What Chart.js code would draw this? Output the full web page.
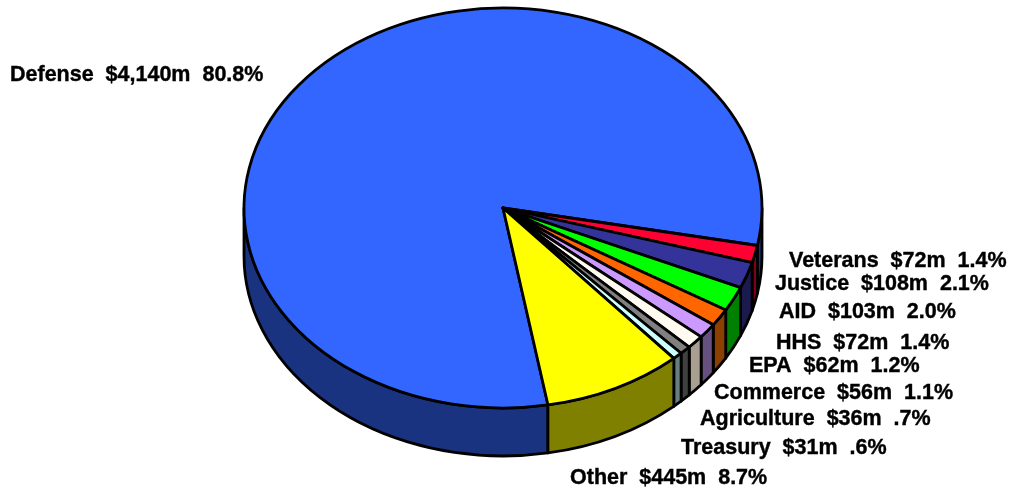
<!DOCTYPE html>
<html>
<head>
<meta charset="utf-8">
<style>
  html, body { margin: 0; padding: 0; background: #fff; }
  canvas { display: block; }
</style>
<script src="https://cdn.jsdelivr.net/npm/chart.js@4/dist/chart.umd.min.js"></script>
</head>
<body>
<canvas id="spendingPie" width="1013" height="489"></canvas>
<script>
// Spending by agency, clockwise from the largest slice
const agencies = ['Defense', 'Veterans', 'Justice', 'AID', 'HHS', 'EPA', 'Commerce', 'Agriculture', 'Treasury', 'Other'];
const amounts = [4140, 72, 108, 103, 72, 62, 56, 36, 31, 445];
const shares = ['80.8%', '1.4%', '2.1%', '2.0%', '1.4%', '1.2%', '1.1%', '.7%', '.6%', '8.7%'];

const topColors = ['#3366ff', '#ff0033', '#333399', '#00ff00', '#ff6600', '#cc99ff', '#fffbf0', '#808080', '#ccffff', '#ffff00'];
const wallColors = ['#1a3380', '#80001a', '#1a1a4d', '#008000', '#8b4000', '#665080', '#a89f90', '#404040', '#668080', '#808000'];

// Where each label starts: x, vertical middle
const labelSpots = [[10, 75], [789, 261], [775, 284], [779, 312], [776, 343], [749, 366], [714, 393], [700, 419], [681, 448], [570, 478]];

// The pie is tilted: circle radius is the height, widened on x, with a wall below it
const xStretch = 1.295;
const depth = 48;

const tiltedPie = {
  id: 'tiltedPie',
  beforeDatasetsDraw(chart) {
    const ctx = chart.ctx;
    const arcs = chart.getDatasetMeta(0).data;
    ctx.save();
    ctx.lineWidth = 2.8;
    ctx.lineJoin = 'round';
    ctx.strokeStyle = '#000';

    // walls: only the part of each slice between 0 and PI faces the viewer
    arcs.forEach((arc, i) => {
      const rx = arc.outerRadius * xStretch, ry = arc.outerRadius;
      [0, 2 * Math.PI].forEach(turn => {
        const from = Math.max(arc.startAngle - turn, 0);
        const to = Math.min(arc.endAngle - turn, Math.PI);
        if (to <= from) return;
        ctx.beginPath();
        ctx.ellipse(arc.x, arc.y, rx, ry, 0, from, to);
        ctx.ellipse(arc.x, arc.y + depth, rx, ry, 0, to, from, true);
        ctx.closePath();
        ctx.fillStyle = wallColors[i];
        ctx.fill();
        ctx.stroke();
      });
    });

    // top faces
    arcs.forEach((arc, i) => {
      ctx.beginPath();
      ctx.moveTo(arc.x, arc.y);
      ctx.ellipse(arc.x, arc.y, arc.outerRadius * xStretch, arc.outerRadius, 0, arc.startAngle, arc.endAngle);
      ctx.closePath();
      ctx.fillStyle = topColors[i];
      ctx.fill();
      ctx.stroke();
    });
    ctx.restore();
    return false;
  },
  afterDraw(chart) {
    const ctx = chart.ctx;
    ctx.save();
    ctx.font = 'bold 21.5px "Liberation Sans", Arial, sans-serif';
    ctx.fillStyle = '#000';
    ctx.strokeStyle = '#000';
    ctx.lineWidth = 0.4;
    ctx.textBaseline = 'middle';
    agencies.forEach((name, i) => {
      const text = name + '  $' + amounts[i].toLocaleString('en-US') + 'm  ' + shares[i];
      ctx.fillText(text, labelSpots[i][0], labelSpots[i][1]);
      ctx.strokeText(text, labelSpots[i][0], labelSpots[i][1]);
    });
    ctx.restore();
  }
};

new Chart(document.getElementById('spendingPie'), {
  type: 'pie',
  data: {
    labels: agencies,
    datasets: [{ data: amounts, backgroundColor: topColors, borderWidth: 0 }]
  },
  options: {
    responsive: false,
    animation: false,
    rotation: 170,
    layout: { padding: { top: 8, bottom: 81, left: 0, right: 7 } },
    plugins: { legend: { display: false }, tooltip: { enabled: false } }
  },
  plugins: [tiltedPie]
});
</script>
</body>
</html>
